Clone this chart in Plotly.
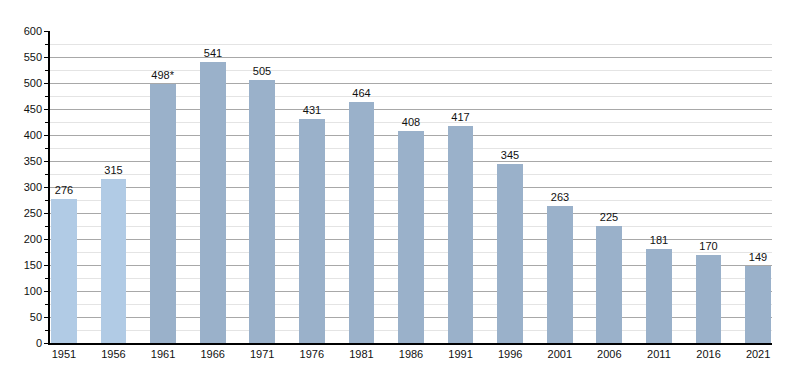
import plotly.graph_objects as go

years = ["1951", "1956", "1961", "1966", "1971", "1976", "1981", "1986",
         "1991", "1996", "2001", "2006", "2011", "2016", "2021"]
values = [276, 315, 498, 541, 505, 431, 464, 408, 417, 345, 263, 225, 181, 170, 149]
labels = ["276", "315", "498*", "541", "505", "431", "464", "408", "417",
          "345", "263", "225", "181", "170", "149"]
light_count = 2

LIGHT = "#b1cbe5"
DARK = "#9ab1ca"
colors = [LIGHT if i < light_count else DARK for i in range(len(years))]
xs = list(range(len(years)))
bw = 0.52

fig = go.Figure()
fig.add_trace(go.Bar(
    x=xs, y=values, width=bw, marker=dict(color=colors, line=dict(width=0)),
    text=labels, textposition="outside", cliponaxis=False,
    textfont=dict(family="Liberation Sans, Arial, sans-serif", size=11, color="#111"),
    hoverinfo="skip",
))

fig.update_layout(
    width=800, height=373,
    margin=dict(l=42, r=36, t=23, b=38),
    paper_bgcolor="white", plot_bgcolor="white",
    showlegend=False,
    font=dict(family="Liberation Sans, Arial, sans-serif", size=11, color="#111"),
    bargap=0,
)
fig.update_xaxes(
    tickmode="array", tickvals=xs, ticktext=years,
    range=[-bw / 2 - 0.02, len(years) - 1 + bw / 2 + 0.02],
    showline=True, linecolor="black", linewidth=1.5,
    showgrid=False, ticks="", tickfont=dict(size=11, color="#111"),
    zeroline=False,
)
fig.update_yaxes(
    range=[0, 600], dtick=50, tick0=0,
    showline=True, linecolor="black", linewidth=1.5,
    showgrid=True, gridcolor="#a8a8a8", gridwidth=1,
    ticks="outside", ticklen=4, tickcolor="black",
    minor=dict(dtick=25, showgrid=True, gridcolor="#e4e4e4", ticks="outside",
               ticklen=3, tickcolor="black"),
    zeroline=False, tickfont=dict(size=11, color="#111"),
)

fig.write_html("out.html")
